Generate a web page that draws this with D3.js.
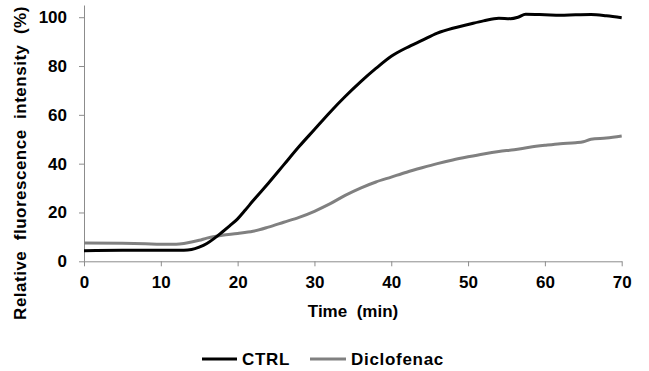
<!DOCTYPE html>
<html>
<head>
<meta charset="utf-8">
<script src="https://cdn.jsdelivr.net/npm/d3@7"></script>
<style>
  html, body { margin: 0; padding: 0; background: #fff; }
  svg { display: block; }
  text { font-family: "Liberation Sans", Arial, sans-serif; font-weight: bold; fill: #000; }
</style>
</head>
<body>
<svg id="chart" width="649" height="371"></svg>
<script>
const ctrlTime = [0, 5, 10, 13, 14, 15, 16, 17, 18, 19, 20, 21, 22, 24, 26, 28, 30, 32, 34, 36, 38, 40, 42, 44, 46, 48, 50, 52, 54, 55.5, 56.5, 57.5, 60, 62, 64, 66, 68, 70];
const ctrlValues = [4.3, 4.5, 4.5, 4.5, 4.8, 5.8, 7.3, 9.5, 12, 14.6, 17.4, 21, 24.8, 32, 39.5, 47, 54, 61, 67.5, 73.5, 79, 84, 87.5, 90.5, 93.5, 95.5, 97, 98.5, 99.6, 99.4, 100, 101.2, 101, 100.8, 101, 101.1, 100.6, 99.8];

const dicloTime = [0, 5, 8, 10, 12, 13, 14, 15, 16, 17, 18, 20, 22, 24, 26, 28, 30, 32, 34, 36, 38, 40, 42, 44, 46, 48, 50, 52, 54, 56, 58, 60, 62, 64, 65, 66, 68, 70];
const dicloValues = [7.5, 7.4, 7.2, 7.0, 7.0, 7.3, 7.9, 8.6, 9.5, 10.2, 10.7, 11.4, 12.3, 14, 16, 18, 20.5, 23.5, 27, 30, 32.5, 34.5, 36.5, 38.3, 40, 41.5, 42.8, 44, 45, 45.7, 46.7, 47.5, 48.2, 48.6, 49, 50, 50.5, 51.3];

const xTicks = [0, 10, 20, 30, 40, 50, 60, 70];
const yTicks = [0, 20, 40, 60, 80, 100];
const seriesNames = ["CTRL", "Diclofenac"];
const seriesColors = ["#000000", "#808080"];

const svg = d3.select("#chart");
const x = d3.scaleLinear().domain([0, 70]).range([84, 621.7]);
const y = d3.scaleLinear().domain([0, 105]).range([261.3, 5]);
const axisColor = "#8c8c8c";
const fontFam = "Liberation Sans, Arial, sans-serif";

// X axis
const xAxis = svg.append("g").attr("transform", `translate(0,${y(0)})`)
  .call(d3.axisBottom(x).tickValues(xTicks).tickSize(5).tickPadding(10).tickSizeOuter(0));
xAxis.select(".domain").attr("stroke", axisColor).attr("stroke-width", 1);
xAxis.selectAll(".tick line").attr("stroke", axisColor);
xAxis.selectAll(".tick text").attr("font-size", 17).attr("font-family", fontFam).attr("font-weight", "bold").attr("fill", "#000");

// Y axis
const yAxis = svg.append("g").attr("transform", `translate(${x(0)},0)`)
  .call(d3.axisLeft(y).tickValues(yTicks).tickSize(5).tickPadding(12).tickSizeOuter(0));
yAxis.select(".domain").attr("stroke", axisColor).attr("stroke-width", 1);
yAxis.selectAll(".tick line").attr("stroke", axisColor);
yAxis.selectAll(".tick text").attr("font-size", 17).attr("font-family", fontFam).attr("font-weight", "bold").attr("fill", "#000");

// Lines
const line = d3.line().x(d => x(d[0])).y(d => y(d[1])).curve(d3.curveMonotoneX);
const ctrlData = ctrlTime.map((t, i) => [t, ctrlValues[i]]);
const dicloData = dicloTime.map((t, i) => [t, dicloValues[i]]);

svg.append("path").datum(dicloData).attr("d", line)
  .attr("fill", "none").attr("stroke", seriesColors[1]).attr("stroke-width", 3);
svg.append("path").datum(ctrlData).attr("d", line)
  .attr("fill", "none").attr("stroke", seriesColors[0]).attr("stroke-width", 3);

// Axis titles
svg.append("text").attr("x", 353).attr("y", 317).attr("text-anchor", "middle")
  .attr("font-size", 17).style("white-space", "pre").text("Time  (min)");
svg.append("text").attr("transform", "translate(26,163) rotate(-90)").attr("text-anchor", "middle")
  .attr("font-size", 17).attr("letter-spacing", 0.5).style("white-space", "pre").text("Relative  fluorescence  intensity  (%)");

// Legend
const legendItems = [
  { name: seriesNames[0], color: seriesColors[0], x1: 202, x2: 237, tx: 242 },
  { name: seriesNames[1], color: seriesColors[1], x1: 310, x2: 346, tx: 351 }
];
const ly = 359;
legendItems.forEach(it => {
  svg.append("line").attr("x1", it.x1).attr("x2", it.x2).attr("y1", ly).attr("y2", ly)
    .attr("stroke", it.color).attr("stroke-width", 3);
  svg.append("text").attr("x", it.tx).attr("y", ly + 6).attr("font-size", 17)
    .attr("letter-spacing", 0.7).text(it.name);
});
</script>
</body>
</html>
